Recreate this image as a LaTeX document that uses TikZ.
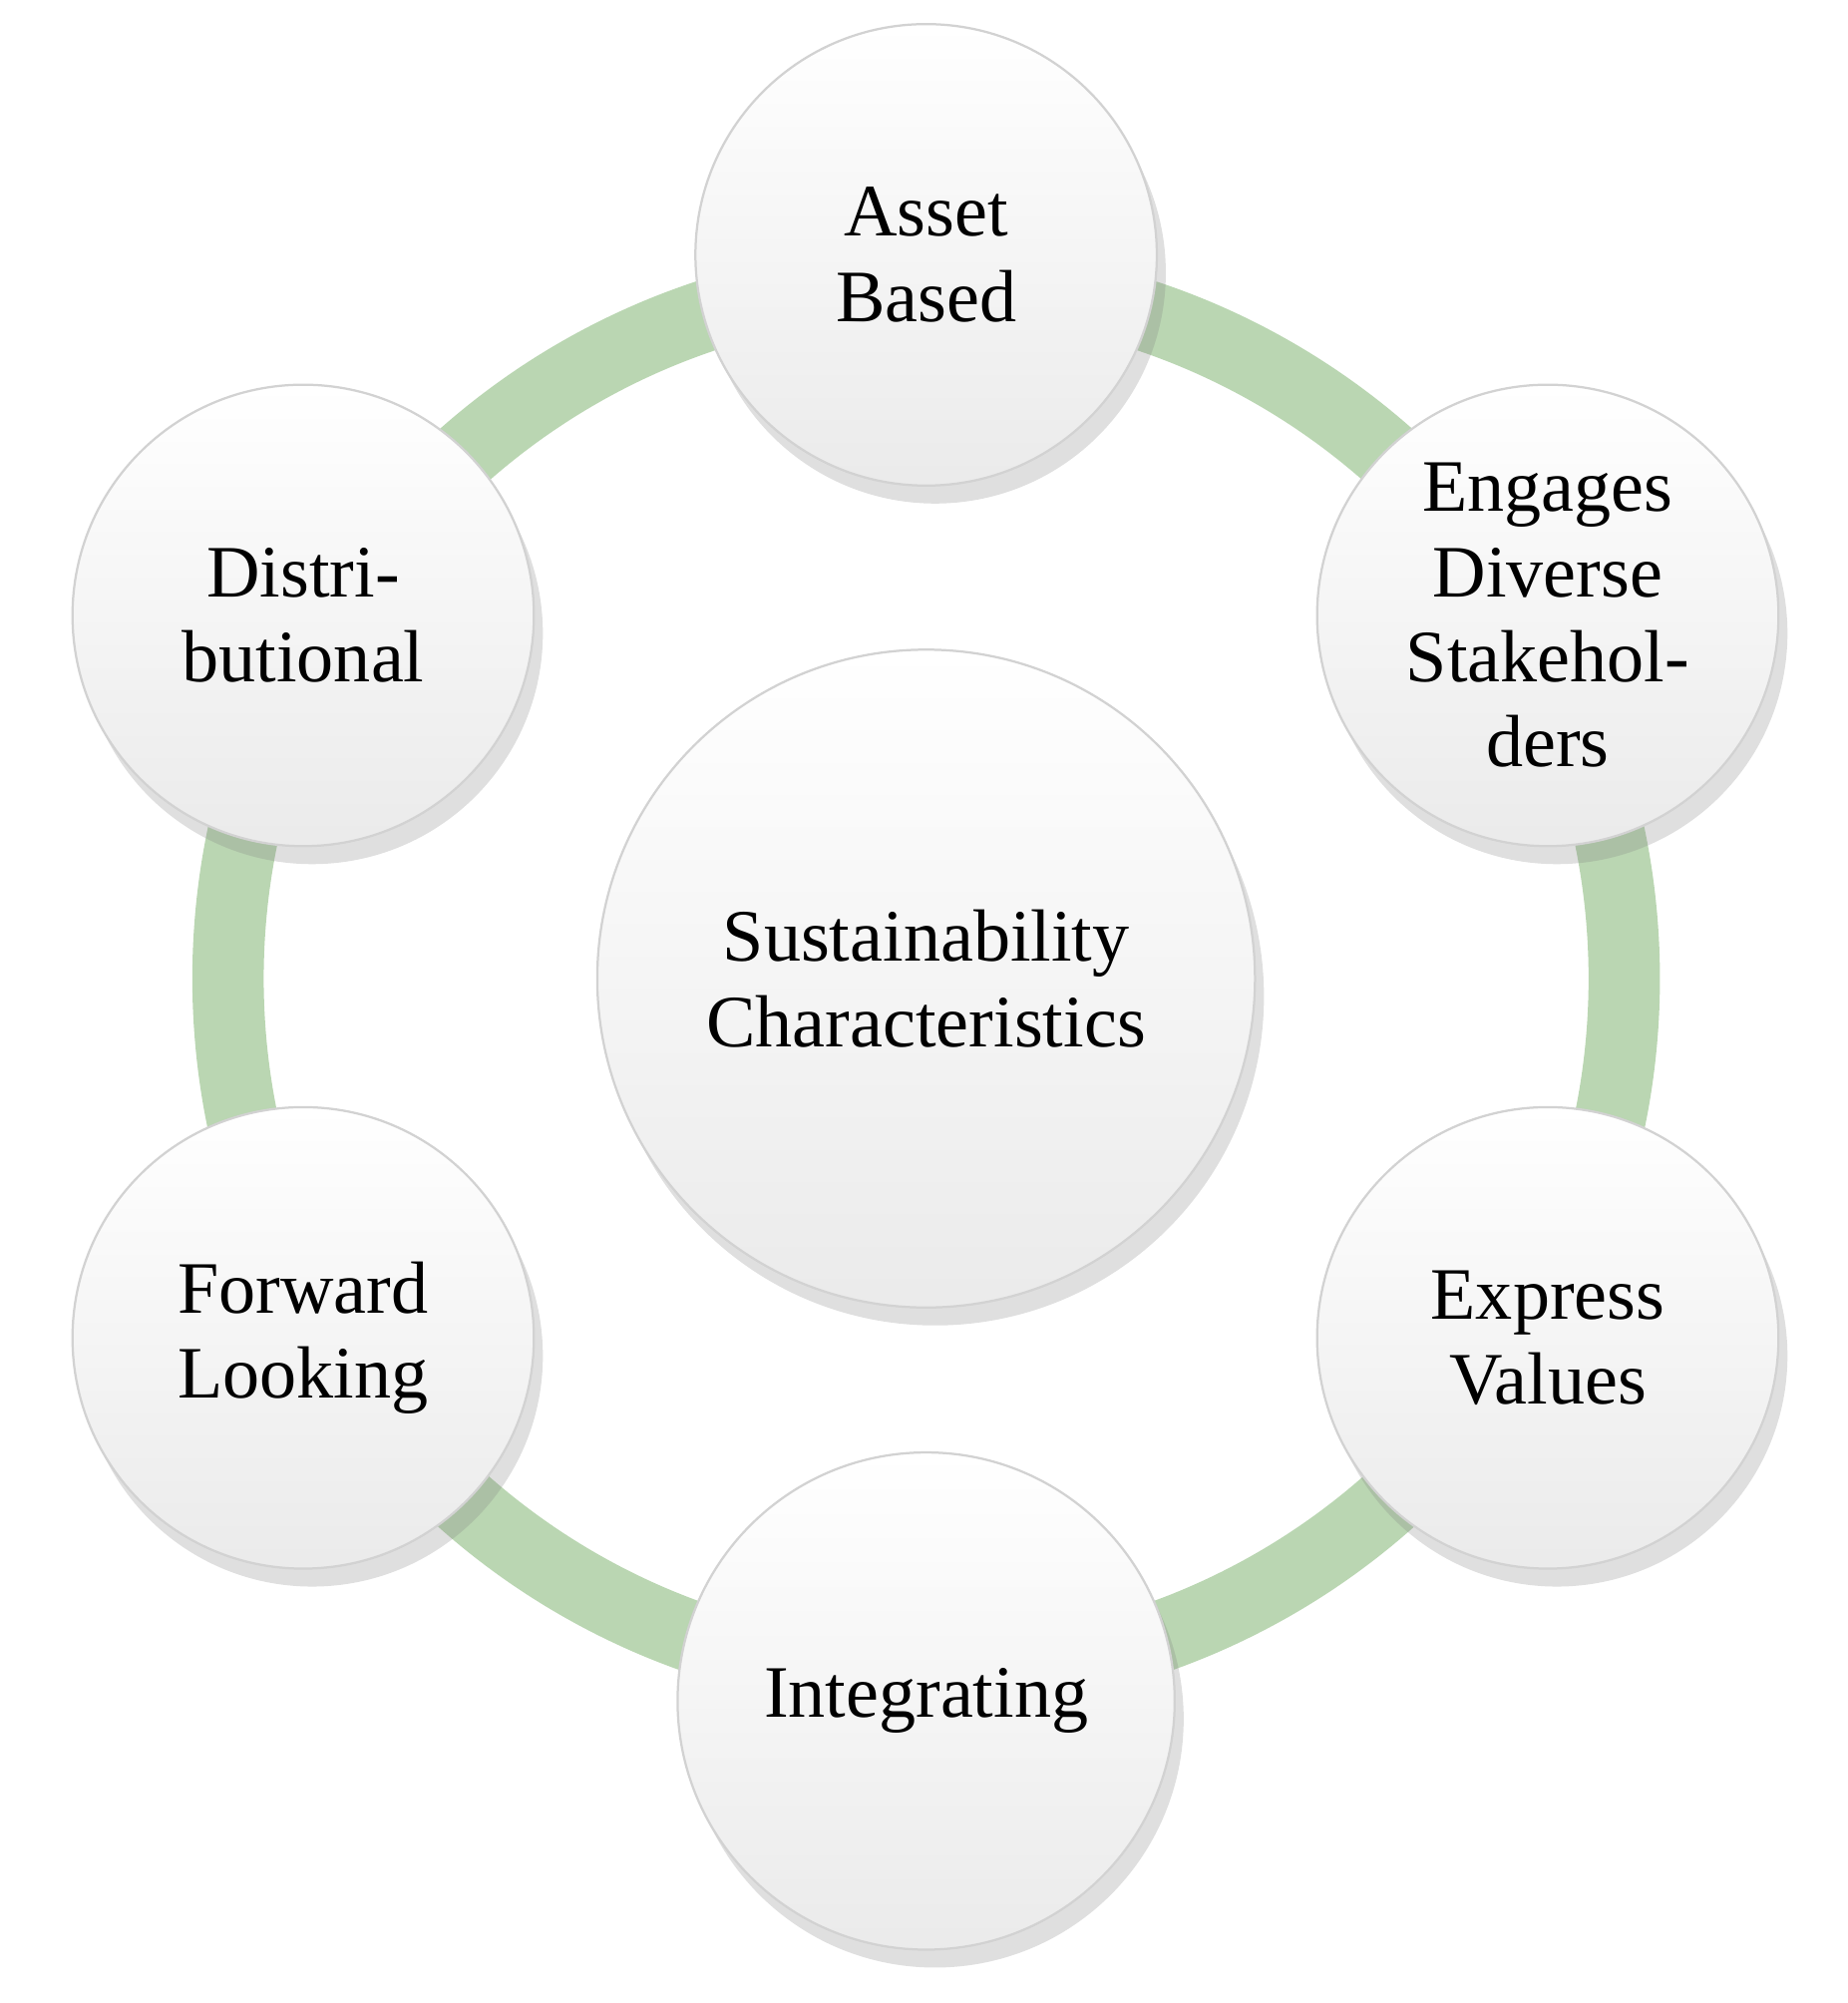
\documentclass[tikz,border=0pt]{standalone}
\usepackage{fontspec}
\setmainfont{Liberation Serif}
\usetikzlibrary{shadows}
\begin{document}
\begin{tikzpicture}[x=0.01cm,y=-0.01cm,
  bub/.style={circle,draw=gray!35,line width=0.5pt,top color=white,bottom color=gray!16,
    drop shadow={shadow xshift=2pt,shadow yshift=-4pt,opacity=0.25,fill=gray},
    align=center,font=\fontsize{16.5}{19}\selectfont,inner sep=0pt},
  ring/.style={draw={rgb,255:red,186;green,214;blue,178},line width=0.56cm}]
\useasboundingbox (0,0) rectangle (1450,1572);
\draw[ring] (727,768) circle[radius=548];
\node[bub,minimum size=5.16cm] (c) at (727,768) {Sustainability\\Characteristics};
\node[bub,minimum size=3.62cm] (a) at (727,200) {Asset\\Based};
\node[bub,minimum size=3.62cm] (e) at (1215,483) {Engages\\Diverse\\Stakehol-\\ders};
\node[bub,minimum size=3.62cm] (x) at (1215,1050) {Express\\Values};
\node[bub,minimum size=3.9cm] (i) at (727,1335) {Integrating};
\node[bub,minimum size=3.62cm] (f) at (238,1050) {Forward\\Looking};
\node[bub,minimum size=3.62cm] (d) at (238,483) {Distri-\\butional};
\end{tikzpicture}
\end{document}
